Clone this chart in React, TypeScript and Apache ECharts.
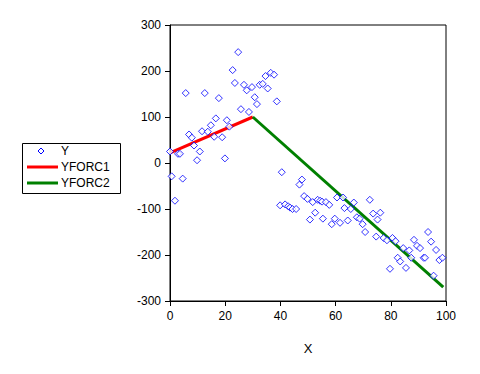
import React, { useEffect, useRef } from "react";
import * as echarts from "echarts";

const xTicks = [0, 20, 40, 60, 80, 100];
const yTicks = [-300, -200, -100, 0, 100, 200, 300];

const xValues = [
  0.0, 0.6, 1.8, 2.9, 3.6, 4.6, 5.7, 6.9, 7.9, 8.7, 9.8, 10.8, 11.6, 12.6, 13.7, 14.8, 16.0, 16.6, 17.7, 18.9,
  19.9, 20.6, 21.5, 22.7, 23.5, 24.7, 25.7, 26.8, 27.8, 28.6, 29.7, 30.7, 31.5, 32.5, 33.6, 34.6, 35.4, 36.5, 37.7, 38.7,
  39.9, 40.5, 41.7, 42.8, 43.5, 44.4, 45.7, 46.9, 47.8, 48.6, 49.8, 50.7, 51.7, 52.6, 53.5, 54.4, 55.1, 55.4, 56.5, 57.7,
  58.6, 59.7, 60.5, 61.6, 62.7, 63.2, 64.4, 65.5, 66.6, 67.7, 68.7, 69.8, 70.7, 72.4, 73.6, 74.7, 75.2, 76.2, 77.4, 78.6,
  79.7, 80.6, 81.7, 82.5, 83.4, 84.5, 85.5, 86.7, 87.4, 88.4, 89.5, 90.6, 91.9, 92.4, 93.5, 94.6, 95.5, 96.4, 97.6, 98.7,
];
const yValues = [
  25, -29, -82, 20, 20, -34, 152, 62, 55, 38, 6, 25, 69, 152, 68, 82, 57, 97, 141, 56,
  10, 93, 79, 202, 174, 241, 117, 170, 158, 111, 165, 143, 128, 170, 172, 189, 162, 196, 192, 134,
  -92, -20, -90, -94, -97, -100, -100, -47, -36, -72, -78, -123, -85, -108, -80, -82, -84, -121, -85, -91,
  -133, -121, -75, -130, -75, -98, -125, -100, -86, -118, -121, -133, -150, -80, -110, -160, -123, -108, -163, -168,
  -230, -163, -170, -206, -214, -185, -228, -190, -206, -167, -180, -185, -206, -206, -150, -171, -245, -189, -211, -206,
];

const forc1X = [0, 30];
const forc1Y = [22, 100];
const forc2X = [30, 99];
const forc2Y = [100, -270];

const FONT = "Liberation Sans, Arial, sans-serif";

export default function App() {
  const ref = useRef<HTMLDivElement>(null);
  useEffect(() => {
    if (!ref.current) return;
    const chart = echarts.init(ref.current, undefined, { renderer: "svg" });
    const scatter = xValues.map((x, i) => [x, yValues[i]]);
    const f1 = forc1X.map((x, i) => [x, forc1Y[i]]);
    const f2 = forc2X.map((x, i) => [x, forc2Y[i]]);
    chart.setOption({
      animation: false,
      backgroundColor: "#fff",
      textStyle: { fontFamily: FONT },
      grid: {
        left: 170,
        right: 34,
        top: 25,
        bottom: 73,
        show: true,
        borderColor: "#000",
        borderWidth: 1,
      },
      xAxis: {
        type: "value",
        min: xTicks[0],
        max: xTicks[xTicks.length - 1],
        interval: 20,
        name: "X",
        nameLocation: "middle",
        nameGap: 41,
        nameTextStyle: { color: "#000", fontSize: 13, fontFamily: FONT },
        axisLine: { show: true, onZero: false, lineStyle: { color: "#000", width: 1 } },
        axisTick: { show: true, length: 5, lineStyle: { color: "#000" } },
        axisLabel: { color: "#000", fontSize: 12, margin: 9, fontFamily: FONT },
        splitLine: { show: false },
      },
      yAxis: {
        type: "value",
        min: yTicks[0],
        max: yTicks[yTicks.length - 1],
        interval: 100,
        axisLine: { show: true, onZero: false, lineStyle: { color: "#000", width: 1 } },
        axisTick: { show: true, length: 5, lineStyle: { color: "#000" } },
        axisLabel: { color: "#000", fontSize: 12, margin: 9, fontFamily: FONT },
        splitLine: { show: false },
      },
      series: [
        {
          name: "Y",
          type: "scatter",
          data: scatter,
          symbol: "diamond",
          symbolSize: 7,
          itemStyle: { color: "#fff", borderColor: "#0000ff", borderWidth: 1 },
          z: 3,
        },
        {
          name: "YFORC1",
          type: "line",
          data: f1,
          showSymbol: false,
          symbol: "none",
          lineStyle: { color: "#ff0000", width: 3 },
          z: 2,
        },
        {
          name: "YFORC2",
          type: "line",
          data: f2,
          showSymbol: false,
          symbol: "none",
          lineStyle: { color: "#008000", width: 3 },
          z: 2,
        },
      ],
      graphic: [
        {
          type: "rect",
          shape: { x: 22.5, y: 143.5, width: 98, height: 50 },
          style: { fill: "#fff", stroke: "#000", lineWidth: 1 },
        },
        {
          type: "polygon",
          shape: { points: [[41, 148], [44, 151], [41, 154], [38, 151]] },
          style: { fill: "#fff", stroke: "#0000ff", lineWidth: 1 },
        },
        {
          type: "line",
          shape: { x1: 27, y1: 167, x2: 58, y2: 167 },
          style: { stroke: "#ff0000", lineWidth: 3 },
        },
        {
          type: "line",
          shape: { x1: 27, y1: 183, x2: 58, y2: 183 },
          style: { stroke: "#008000", lineWidth: 3 },
        },
        {
          type: "text",
          x: 61,
          y: 151,
          style: { text: "Y", fill: "#000", font: "12px " + FONT, textVerticalAlign: "middle" },
        },
        {
          type: "text",
          x: 61,
          y: 167,
          style: { text: "YFORC1", fill: "#000", font: "12px " + FONT, textVerticalAlign: "middle" },
        },
        {
          type: "text",
          x: 61,
          y: 183,
          style: { text: "YFORC2", fill: "#000", font: "12px " + FONT, textVerticalAlign: "middle" },
        },
      ],
    });
    return () => chart.dispose();
  }, []);
  return <div ref={ref} style={{ width: 480, height: 374, position: "absolute", left: 0, top: 0 }} />;
}
